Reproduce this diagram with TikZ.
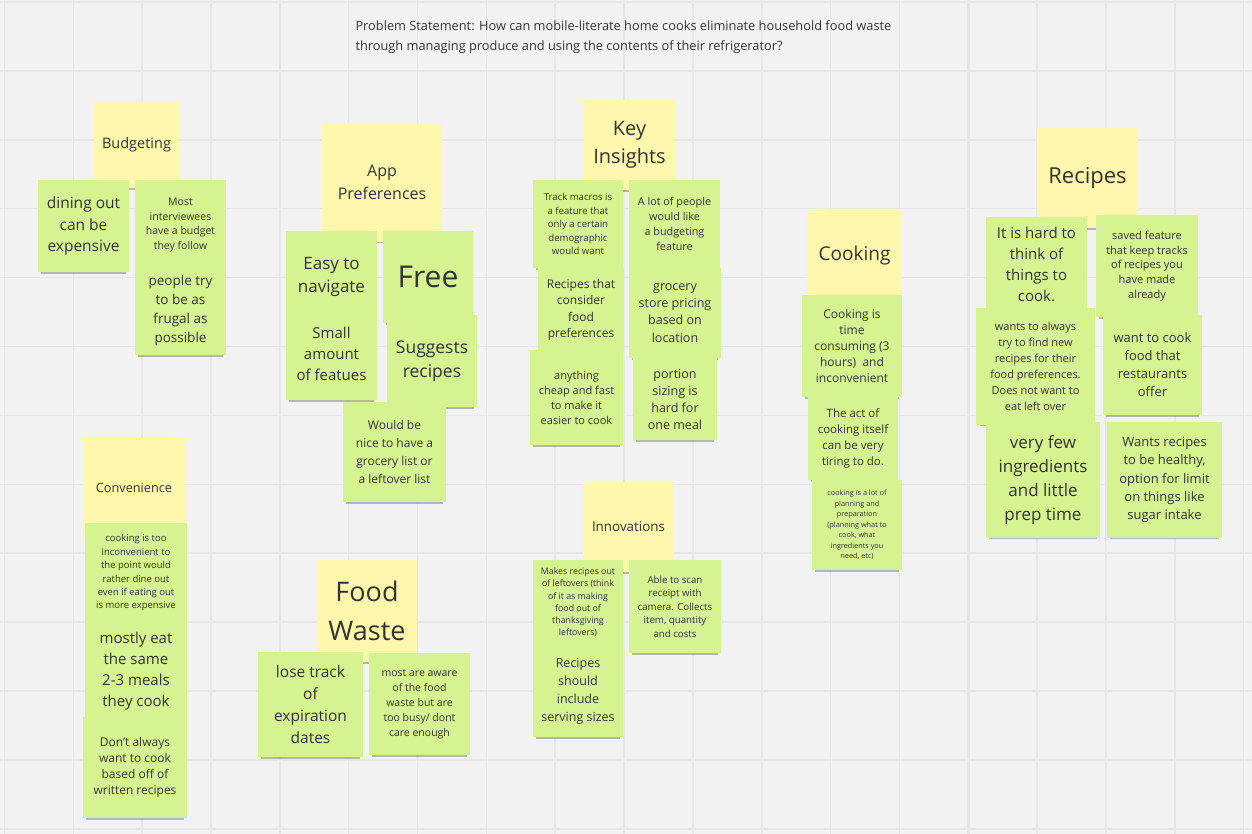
\documentclass[tikz,border=0pt]{standalone}
\usepackage{fontspec}
\setmainfont{Open Sans}
\usetikzlibrary{shadows}
\definecolor{board}{HTML}{F2F2F2}
\definecolor{gridline}{HTML}{E7E7E7}
\definecolor{stickyyellow}{HTML}{FFF8AC}
\definecolor{stickygreen}{HTML}{D5F491}
\definecolor{ink}{HTML}{333333}

\begin{document}
\begin{tikzpicture}[x=1pt, y=-1pt,
		sticky/.style={inner sep=0pt, align=center, text=ink,
			general shadow={fill=black, opacity=.25, shadow scale=.94, shadow yshift=-5pt}},
		header/.style={sticky, fill=stickyyellow},
		card/.style={sticky, fill=stickygreen},
		wh/.style 2 args={minimum width=#1pt, minimum height=#2pt},
		fs/.style 2 args={font=\fontsize{#1}{#2}\selectfont}]
		\useasboundingbox (0,0) rectangle (1252,834);
		\fill [board] (0,0) rectangle (1252,834);
		\foreach \i in {-4,...,14}
			\draw [gridline, line width=1.5pt] ({279.8+68.85*\i},0) -- ({279.8+68.85*\i},834);
		\foreach \i in {0,10}
			\draw [gridline, line width=2.5pt] ({279.8+68.85*\i},0) -- ({279.8+68.85*\i},834);
		\foreach \j in {0,...,12}
			\draw [gridline, line width=1.5pt] (0,{2+68.9*\j}) -- (1252,{2+68.9*\j});

		\node [anchor=north west, align=left, text=ink, fs={12.8}{20}] (problem) at (352,17)
			{Problem Statement: How can mobile-literate home cooks eliminate household food waste\\
			through managing produce and using the contents of their refrigerator?};

		\node [header, wh={85}{87}, fs={14.5}{18}] (budg) at (136.5,144.5) {Budgeting};
		\node [card, wh={91}{92}, fs={15.5}{21.5}] (dine) at (83.5,226) {dining out\\can be\\expensive};
		\node [card, wh={91}{90}, fs={10.5}{14.7}] (budget) at (180.5,225) {Most\\interviewees\\have a budget\\they follow};
		\node [card, wh={91}{90}, fs={13.5}{19}] (frugal) at (180.5,310) {people try\\to be as\\frugal as\\possible};

		\node [header, wh={120}{119}, fs={16}{22.5}] (apppref) at (382,182.5) {App\\Preferences};
		\node [card, wh={91}{91}, fs={17}{23}] (navigate) at (331.5,276.5) {Easy to\\navigate};
		\node [card, wh={90}{92}, fs={30}{36}] (free) at (428,277) {Free};
		\node [card, wh={91}{92}, fs={15}{21}] (features) at (331.5,354) {Small\\amount\\of featues};
		\node [card, wh={90}{92}, fs={17.5}{24}] (suggests) at (432,361) {Suggests\\recipes};
		\node [card, wh={103}{100}, fs={12}{18}] (grocerylist) at (394.5,452) {Would be\\nice to have a\\grocery list or\\a leftover list};

		\node [header, wh={91}{90}, fs={20}{28}] (keyins) at (629.5,145) {Key\\Insights};
		\node [card, wh={90}{88}, fs={9.6}{13.5}] (macros) at (578,224) {Track macros is\\a feature that\\only a certain\\demographic\\would want};
		\node [card, wh={91}{88}, fs={10.8}{14.8}] (budgetfeat) at (674.5,224) {A lot of people\\would like\\a budgeting\\feature};
		\node [card, wh={86}{84}, fs={12}{16.5}] (foodpref) at (581,310) {Recipes that\\consider\\food\\preferences};
		\node [card, wh={92}{90}, fs={12.5}{17.2}] (pricing) at (675,313) {grocery\\store pricing\\based on\\location};
		\node [card, wh={93}{95}, fs={11}{15}] (cheap) at (576.5,397.5) {anything\\cheap and fast\\to make it\\easier to cook};
		\node [card, wh={84}{82}, fs={12.5}{17}] (portion) at (675,399) {portion\\sizing is\\hard for\\one meal};

		\node [header, wh={95}{92}, fs={19}{24}] (cooking) at (854.5,256) {Cooking};
		\node [card, wh={100}{102}, fs={12}{16.2}] (timecons) at (852,346) {Cooking is\\time\\consuming (3\\hours)~ and\\inconvenient};
		\node [card, wh={90}{83}, fs={11.5}{16}] (tiring) at (853,438.5) {The act of\\cooking itself\\can be very\\tiring to do.};
		\node [card, wh={90}{90}, fs={7.3}{10.5}] (planning) at (857,525) {cooking is a lot of\\planning and\\preparation\\(planning what to\\cook, what\\ingredients you\\need, etc)};

		\node [header, wh={101}{100}, fs={22}{28}] (recipes) at (1087.5,178) {Recipes};
		\node [card, wh={101}{95}, fs={15}{21}] (hardthink) at (1036.5,264.5) {It is hard to\\think of\\things to\\cook.};
		\node [card, wh={102}{102}, fs={11}{14.8}] (saved) at (1147,266) {saved feature\\that keep tracks\\of recipes you\\have made\\already};
		\node [card, wh={119}{117}, fs={11}{15.9}] (newrecipes) at (1035.5,366.5) {wants to always\\try to find new\\recipes for their\\food preferences.\\Does not want to\\eat left over};
		\node [card, wh={99}{100}, fs={13}{18}] (restaurants) at (1152.5,365) {want to cook\\food that\\restaurants\\offer};
		\node [card, wh={114}{116}, fs={17}{24}] (fewingred) at (1043,480) {very few\\ingredients\\and little\\prep time};
		\node [card, wh={115}{116}, fs={13}{18.3}] (healthy) at (1164.5,480) {Wants recipes\\to be healthy,\\option for limit\\on things like\\sugar intake};

		\node [header, wh={102}{100}, fs={12.7}{16}] (conven) at (134,488) {Convenience};
		\node [card, wh={102}{100}, fs={9.5}{13.4}] (inconv) at (136,573) {cooking is too\\inconvenient to\\the point would\\rather dine out\\even if eating out\\is more expensive};
		\node [card, wh={102}{97}, fs={15}{21}] (samemeals) at (136,671.5) {mostly eat\\the same\\2-3 meals\\they cook};
		\node [card, wh={104}{101}, fs={12}{15.8}] (written) at (135,767.5) {Don't always\\want to cook\\based off of\\written recipes};

		\node [header, wh={100}{102}, fs={27}{39}] (foodwaste) at (367,611) {Food\\Waste};
		\node [card, wh={105}{105}, fs={15.5}{22}] (expiry) at (310.5,704.5) {lose track\\of\\expiration\\dates};
		\node [card, wh={101}{102}, fs={10.5}{15}] (aware) at (419.5,704) {most are aware\\of the food\\waste but are\\too busy/ dont\\care enough};

		\node [header, wh={91}{90}, fs={13.4}{17}] (innov) at (628.5,527) {Innovations};
		\node [card, wh={90}{85}, fs={8.8}{12.2}] (leftovers) at (578,602.5) {Makes recipes out\\of leftovers (think\\of it as making\\food out of\\thanksgiving\\leftovers)};
		\node [card, wh={92}{93}, fs={9.7}{13.5}] (receipt) at (675,606.5) {Able to scan\\receipt with\\camera. Collects\\item, quantity\\and costs};
		\node [card, wh={90}{92}, fs={12.5}{18}] (serving) at (578,691) {Recipes\\should\\include\\serving sizes};
\end{tikzpicture}
\end{document}
